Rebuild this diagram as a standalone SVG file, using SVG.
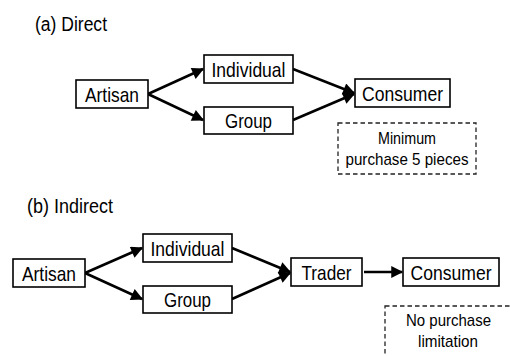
<svg xmlns="http://www.w3.org/2000/svg" width="510" height="356" viewBox="0 0 510 356">
<style>
.box{fill:#fff;stroke:#000;stroke-width:1.6}
.dash{fill:none;stroke:#222;stroke-width:1.3;stroke-dasharray:4.5,3}
.lbl{font-family:"Liberation Sans",Arial,sans-serif;font-size:21px;fill:#000;text-anchor:middle}
.ttl{font-family:"Liberation Sans",Arial,sans-serif;font-size:20px;fill:#000}
.note{font-family:"Liberation Sans",Arial,sans-serif;font-size:17px;fill:#000;text-anchor:middle}
.arr{stroke:#000;stroke-width:2.6;fill:none;marker-end:url(#ah)}
</style>
<defs>
<marker id="ah" viewBox="0 0 10 10" refX="9" refY="5" markerWidth="5.2" markerHeight="4.6" orient="auto" markerUnits="strokeWidth">
<path d="M0,0 L10,5 L0,10 z" fill="#000"/>
</marker>
</defs>
<rect width="510" height="356" fill="#fff"/>
<text class="ttl" x="35" y="31" textLength="72" lengthAdjust="spacingAndGlyphs">(a) Direct</text>
<text class="ttl" x="27" y="213" textLength="86" lengthAdjust="spacingAndGlyphs">(b) Indirect</text>
<g id="connectors">
<line class="arr" x1="148" y1="94" x2="203" y2="69"/>
<line class="arr" x1="148" y1="94" x2="203" y2="120"/>
<line class="arr" x1="293" y1="69" x2="354" y2="93"/>
<line class="arr" x1="293" y1="120" x2="354" y2="94"/>
<line class="arr" x1="85" y1="273" x2="142" y2="248"/>
<line class="arr" x1="85" y1="273" x2="142" y2="299"/>
<line class="arr" x1="232" y1="248" x2="290" y2="272"/>
<line class="arr" x1="232" y1="299" x2="290" y2="273"/>
<line class="arr" x1="364" y1="272" x2="402" y2="272"/>
</g>
<g id="a-artisan"><rect class="box" x="76" y="80" width="72" height="28"/><text class="lbl" x="112" y="101.5" textLength="54" lengthAdjust="spacingAndGlyphs">Artisan</text></g>
<g id="a-individual"><rect class="box" x="204" y="55" width="89" height="28"/><text class="lbl" x="248.5" y="76.5" textLength="74" lengthAdjust="spacingAndGlyphs">Individual</text></g>
<g id="a-group"><rect class="box" x="204" y="107" width="89" height="27"/><text class="lbl" x="248.5" y="128" textLength="47" lengthAdjust="spacingAndGlyphs">Group</text></g>
<g id="a-consumer"><rect class="box" x="355" y="79" width="95" height="28"/><text class="lbl" x="402.5" y="100.5" textLength="81" lengthAdjust="spacingAndGlyphs">Consumer</text></g>
<g id="a-note"><rect class="dash" x="338" y="123" width="138" height="51"/><text class="note" x="407" y="144" textLength="58" lengthAdjust="spacingAndGlyphs">Minimum</text><text class="note" x="407" y="165" textLength="123" lengthAdjust="spacingAndGlyphs">purchase 5 pieces</text></g>
<g id="b-artisan"><rect class="box" x="13" y="259" width="72" height="28"/><text class="lbl" x="49" y="280.5" textLength="54" lengthAdjust="spacingAndGlyphs">Artisan</text></g>
<g id="b-individual"><rect class="box" x="143" y="234" width="89" height="28"/><text class="lbl" x="187.5" y="255.5" textLength="74" lengthAdjust="spacingAndGlyphs">Individual</text></g>
<g id="b-group"><rect class="box" x="143" y="286" width="89" height="27"/><text class="lbl" x="187.5" y="307" textLength="47" lengthAdjust="spacingAndGlyphs">Group</text></g>
<g id="b-trader"><rect class="box" x="291" y="258" width="71" height="28"/><text class="lbl" x="326.5" y="279.5" textLength="50" lengthAdjust="spacingAndGlyphs">Trader</text></g>
<g id="b-consumer"><rect class="box" x="403" y="258" width="96" height="28"/><text class="lbl" x="451" y="279.5" textLength="81" lengthAdjust="spacingAndGlyphs">Consumer</text></g>
<g id="b-note"><rect class="dash" x="385" y="306" width="140" height="60"/><text class="note" x="448.5" y="326" textLength="85" lengthAdjust="spacingAndGlyphs">No purchase</text><text class="note" x="448" y="347" textLength="60" lengthAdjust="spacingAndGlyphs">limitation</text></g>
</svg>
